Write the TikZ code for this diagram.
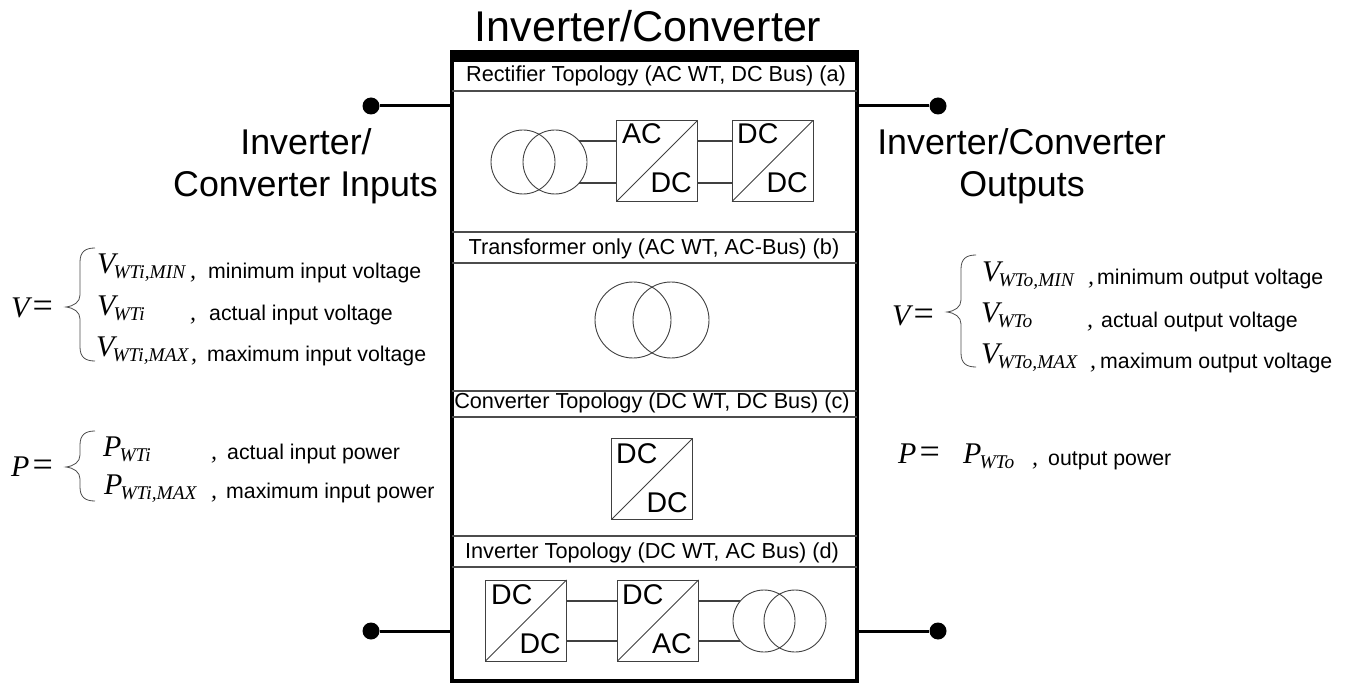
\documentclass[tikz,border=0pt]{standalone}
\usepackage{fontspec}
\setmainfont{Liberation Sans}
\newfontfamily\eqfont{Liberation Serif}
\usetikzlibrary{positioning}
\newcommand{\wtsym}[2]{{\eqfont\itshape\fontsize{30}{32}\selectfont #1\kern-2pt\raisebox{-5pt}{\fontsize{19.4}{22}\selectfont #2}}}
\newcommand{\eqlhs}[1]{{\eqfont\itshape\fontsize{30}{32}\selectfont #1\kern3pt\upshape\fontsize{36}{38}\selectfont =}}
\newcommand{\bigbrace}[4]{\draw[bracew] (#1+15,#2) .. controls (#1+5,#2) and (#1,#2+4) .. (#1,#2+14) -- (#1,#3-12) .. controls (#1,#3-5) and (#1-6,#3-1) .. (#1-14,#3) .. controls (#1-6,#3+1) and (#1,#3+5) .. (#1,#3+12) -- (#1,#4-14) .. controls (#1,#4-4) and (#1+5,#4) .. (#1+15,#4);}
\tikzset{
  title/.style={inner sep=0,anchor=base,font=\fontsize{43}{47}\selectfont},
  head/.style={inner sep=0,anchor=base,font=\fontsize{35.8}{40}\selectfont},
  sect/.style={inner sep=0,anchor=base,font=\fontsize{21.7}{26}\selectfont},
  desc/.style={inner sep=0,anchor=base west,font=\fontsize{21.3}{25}\selectfont},
  eqn/.style={inner sep=0,anchor=base west},
  comma/.style={inner sep=0,anchor=base west,font=\eqfont\itshape\fontsize{24}{26}\selectfont},
  conv/.style={draw=black!75,line width=1pt,minimum size=81pt,inner sep=0,outer sep=0},
  convt/.style={inner sep=0,font=\fontsize{28.5}{32}\selectfont},
  coil/.style={draw=black!75,line width=0.9pt,circle,inner sep=0,outer sep=0},
  wire/.style={draw=black!75,line width=1.2pt},
  sepl/.style={draw=black!70,line width=1.2pt},
  lead/.style={draw=black,line width=3pt},
  term/.style={fill=black,circle,minimum size=17pt,inner sep=0},
  bracew/.style={draw=black!70,line width=0.8pt},
}
\begin{document}
\begin{tikzpicture}[x=1pt,y=-1pt]
  \useasboundingbox (0,0) rectangle (1348,684);
  % Titles
  \node[title] (Tmain) at (648,42) {Inverter/Converter};
  \node[head] (Hin1) at (306,155) {Inverter/};
  \node[head] (Hin2) at (305.5,197) {Converter Inputs};
  \node[head] (Hout1) at (1021.5,155) {Inverter/Converter};
  \node[head] (Hout2) at (1022,197) {Outputs};
  % Frame
  \node[draw,line width=4pt,minimum width=405pt,minimum height=629pt,inner sep=0,outer sep=0] (Frame) at (654.5,366.5) {};
  \fill (450,50) rectangle (859,62);
  % Section rules
  \draw[sepl] (Frame.west |- 0,91) -- (Frame.east |- 0,91);
  \draw[sepl] (Frame.west |- 0,232) -- (Frame.east |- 0,232);
  \draw[sepl] (Frame.west |- 0,263) -- (Frame.east |- 0,263);
  \draw[sepl] (Frame.west |- 0,391) -- (Frame.east |- 0,391);
  \draw[sepl] (Frame.west |- 0,417) -- (Frame.east |- 0,417);
  \draw[sepl] (Frame.west |- 0,536) -- (Frame.east |- 0,536);
  \draw[sepl] (Frame.west |- 0,567) -- (Frame.east |- 0,567);
  % Section labels
  \node[sect] (Sa) at (656,82) {Rectifier Topology (AC WT, DC Bus) (a)};
  \node[sect] (Sb) at (654,255) {Transformer only (AC WT, AC-Bus) (b)};
  \node[sect] (Sc) at (652,408) {Converter Topology (DC WT, DC Bus) (c)};
  \node[sect] (Sd) at (652,558) {Inverter Topology (DC WT, AC Bus) (d)};
  % Terminals
  \node[term] (Ti1) at (371,106) {};
  \node[term] (Ti2) at (371,631) {};
  \node[term] (To1) at (938,106) {};
  \node[term] (To2) at (938,631) {};
  \draw[lead] (Ti1) -- (Ti1 -| Frame.west);
  \draw[lead] (Ti2) -- (Ti2 -| Frame.west);
  \draw[lead] (To1) -- (To1 -| Frame.east);
  \draw[lead] (To2) -- (To2 -| Frame.east);
  % Rectifier topology
  \node[coil,minimum size=64pt] (Xa1) at (523,162) {};
  \node[coil,minimum size=64pt] (Xa2) at (555,162) {};
  \node[conv] (Ba1) at (657,161) {};
  \node[conv] (Ba2) at (772.5,161) {};
  \draw[conv] (Ba1.south west) -- (Ba1.north east);
  \draw[conv] (Ba2.south west) -- (Ba2.north east);
  \node[convt,anchor=base west] (Ba1t) at (622,144) {AC};
  \node[convt,anchor=base east] (Ba1b) at (692,193) {DC};
  \node[convt,anchor=base west] (Ba2t) at (737,144) {DC};
  \node[convt,anchor=base east] (Ba2b) at (808,193) {DC};
  \draw[wire] (Xa2.41) -- (Xa2.41 -| Ba1.west);
  \draw[wire] (Xa2.-41) -- (Xa2.-41 -| Ba1.west);
  \draw[wire] (Ba1.east |- Xa2.41) -- (Ba2.west |- Xa2.41);
  \draw[wire] (Ba1.east |- Xa2.-41) -- (Ba2.west |- Xa2.-41);
  % Transformer only
  \node[coil,minimum size=76pt] (Xb1) at (633,320) {};
  \node[coil,minimum size=76pt] (Xb2) at (671,320) {};
  % Converter topology
  \node[conv] (Bc) at (652,479) {};
  \draw[conv] (Bc.south west) -- (Bc.north east);
  \node[convt,anchor=base west] (Bct) at (616,463) {DC};
  \node[convt,anchor=base east] (Bcb) at (688,512) {DC};
  % Inverter topology
  \node[conv] (Bd1) at (526,620.5) {};
  \node[conv] (Bd2) at (658,620.5) {};
  \draw[conv] (Bd1.south west) -- (Bd1.north east);
  \draw[conv] (Bd2.south west) -- (Bd2.north east);
  \node[convt,anchor=base west] (Bd1t) at (491,604) {DC};
  \node[convt,anchor=base east] (Bd1b) at (561,653) {DC};
  \node[convt,anchor=base west] (Bd2t) at (622,604) {DC};
  \node[convt,anchor=base east] (Bd2b) at (692,653) {AC};
  \node[coil,minimum size=62pt] (Xd1) at (764,621) {};
  \node[coil,minimum size=62pt] (Xd2) at (795,621) {};
  \draw[wire] (Bd1.east |- Xd1.140) -- (Bd2.west |- Xd1.140);
  \draw[wire] (Bd1.east |- Xd1.220) -- (Bd2.west |- Xd1.220);
  \draw[wire] (Xd1.140) -- (Xd1.140 -| Bd2.east);
  \draw[wire] (Xd1.220) -- (Xd1.220 -| Bd2.east);
  % Input equations
  \node[eqn] (Vi) at (11,318) {\eqlhs{V}};
  \bigbrace{80}{248}{307}{361}
  \node[eqn] (Vi1) at (97,274) {\wtsym{V}{WTi,MIN}};
  \node[eqn] (Vi2) at (97,316) {\wtsym{V}{WTi}};
  \node[eqn] (Vi3) at (96,356) {\wtsym{V}{WTi,MAX}};
  \node[comma] (Ci1) at (190,279) {,};
  \node[comma] (Ci2) at (190,320) {,};
  \node[comma] (Ci3) at (191,361) {,};
  \node[desc] (Di1) at (208,279) {minimum input voltage};
  \node[desc] (Di2) at (209,320) {actual input voltage};
  \node[desc] (Di3) at (207,361) {maximum input voltage};
  \node[eqn] (Pi) at (11,476) {\eqlhs{P}};
  \bigbrace{80}{431}{467}{501}
  \node[eqn] (Pi1) at (103,456) {\wtsym{P}{WTi}};
  \node[eqn] (Pi2) at (104,494) {\wtsym{P}{WTi,MAX}};
  \node[comma] (Ci4) at (211,459) {,};
  \node[comma] (Ci5) at (211,498) {,};
  \node[desc] (Di4) at (227,459) {actual input power};
  \node[desc] (Di5) at (226,498) {maximum input power};
  % Output equations
  \node[eqn] (Vo) at (892,325) {\eqlhs{V}};
  \bigbrace{961}{255}{312}{367}
  \node[eqn] (Vo1) at (982,282) {\wtsym{V}{WTo,MIN}};
  \node[eqn] (Vo2) at (981,323) {\wtsym{V}{WTo}};
  \node[eqn] (Vo3) at (981,363) {\wtsym{V}{WTo,MAX}};
  \node[comma] (Co1) at (1088,285) {,};
  \node[comma] (Co2) at (1087,327) {,};
  \node[comma] (Co3) at (1090,368) {,};
  \node[desc] (Do1) at (1097,285) {minimum output voltage};
  \node[desc] (Do2) at (1101,327) {actual output voltage};
  \node[desc] (Do3) at (1100,368) {maximum output voltage};
  \node[eqn] (Po) at (898,463) {\eqlhs{P}};
  \node[eqn] (Po1) at (963,463) {\wtsym{P}{WTo}};
  \node[comma] (Co4) at (1032,465) {,};
  \node[desc] (Do4) at (1048,465) {output power};
\end{tikzpicture}
\end{document}
